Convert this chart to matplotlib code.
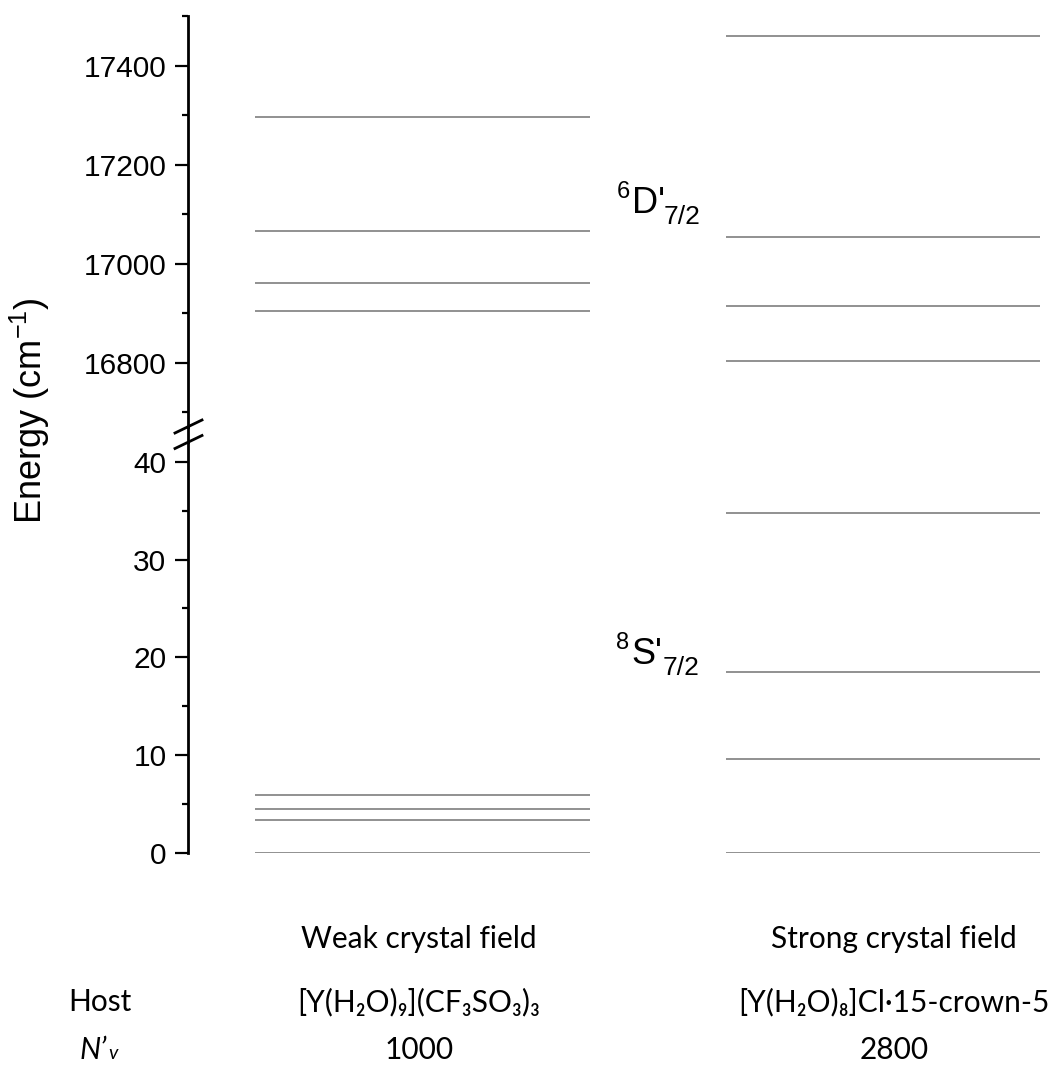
import matplotlib
matplotlib.use("Agg")
import matplotlib.pyplot as plt
from matplotlib.lines import Line2D
from matplotlib.ticker import MultipleLocator

plt.rcParams["mathtext.fontset"] = "custom"
plt.rcParams["mathtext.rm"] = "Liberation Sans"
plt.rcParams["mathtext.it"] = "Liberation Sans:italic"

# Crystal-field levels (cm^-1) of the two hosts
weak_excited = [16904, 16962, 17066, 17296]     # 6D'7/2, weak field
weak_ground = [0.0, 3.4, 4.5, 6.0]              # 8S'7/2, weak field
strong_excited = [16804, 16915, 17054, 17461]   # 6D'7/2, strong field
strong_ground = [0.0, 9.6, 18.5, 34.8]          # 8S'7/2, strong field

field_labels = ["Weak crystal field", "Strong crystal field"]
host_labels = ["[Y(H\u2082O)\u2089](CF\u2083SO\u2083)\u2083",
               "[Y(H\u2082O)\u2088]Cl\u00b715-crown-5"]
nv_values = ["1000", "2800"]

W, H = 1054, 1065
fig = plt.figure(figsize=(W / 100, H / 100), dpi=100)
fig.patch.set_facecolor("white")


def fx(px):
    return px / W


def fy(py):
    return 1 - py / H


AXIS_X = 188
HI_TOP, HI_BOT = 16.3, 427.0
LO_TOP, LO_BOT = 442.0, 853.3

ax_hi = fig.add_axes([fx(AXIS_X), fy(HI_BOT), fx(W) - fx(AXIS_X), fy(HI_TOP) - fy(HI_BOT)])
ax_lo = fig.add_axes([fx(AXIS_X), fy(LO_BOT), fx(W) - fx(AXIS_X), fy(LO_TOP) - fy(LO_BOT)])

ax_hi.set_ylim(16670, 17500)
ax_lo.set_ylim(0, 42)

ARIAL = ["Liberation Sans", "DejaVu Sans"]
for ax, major, minor in ((ax_hi, 200, 100), (ax_lo, 10, 5)):
    ax.set_xlim(AXIS_X, W)
    ax.patch.set_alpha(0)
    for side in ("top", "right", "bottom"):
        ax.spines[side].set_visible(False)
    ax.spines["left"].set_linewidth(2.0)
    ax.set_xticks([])
    ax.yaxis.set_major_locator(MultipleLocator(major))
    ax.yaxis.set_minor_locator(MultipleLocator(minor))
    ax.tick_params(axis="y", which="major", length=9.5, width=1.6, pad=6)
    ax.tick_params(axis="y", which="minor", length=4.5, width=1.6)
    for lbl in ax.get_yticklabels():
        lbl.set_fontfamily(ARIAL)
        lbl.set_fontsize(21.5)

# Level lines
LEVEL_KW = dict(color="#737373", linewidth=1.1)
WEAK_X = (255, 590)
STRONG_X = (726, 1040)
ax_hi.hlines(weak_excited, *WEAK_X, **LEVEL_KW)
ax_lo.hlines(weak_ground, *WEAK_X, **LEVEL_KW)
ax_hi.hlines(strong_excited, *STRONG_X, **LEVEL_KW)
ax_lo.hlines(strong_ground, *STRONG_X, **LEVEL_KW)

# Axis break: join the two spines and draw the slanted marks
fig.add_artist(Line2D([fx(AXIS_X)] * 2, [fy(HI_BOT), fy(LO_TOP)], color="black", lw=2.0))
for yc in (426.5, 442.0):
    fig.add_artist(Line2D([fx(175), fx(202)], [fy(yc + 6.5), fy(yc - 6.5)],
                          color="black", lw=2.0))

# Axis title
fig.text(fx(30), fy(411), "Energy (cm$^{\\mathregular{-1}}$)", rotation=90,
         ha="center", va="center", fontsize=26, family=ARIAL)


# Term symbols
def term(x, y, sup, main, sub):
    fig.text(fx(x), fy(y - 15), sup, fontsize=17, family=ARIAL, va="baseline")
    fig.text(fx(x + 15), fy(y), main, fontsize=26, family=ARIAL, va="baseline")
    fig.text(fx(x + 47), fy(y + 11), sub, fontsize=19, family=ARIAL, va="baseline")


term(617, 213, "6", "D'", "7/2")
term(616, 664, "8", "S'", "7/2")

# Bottom table
CAL = ["Lato", "DejaVu Sans"]
TFS = 21.5
centers = [419, 894]
for cx, s in zip(centers, field_labels):
    fig.text(fx(cx), fy(948), s, fontsize=TFS, family=CAL, ha="center", va="baseline")
fig.text(fx(100), fy(1011), "Host", fontsize=TFS, family=CAL, ha="center", va="baseline")
for cx, s in zip(centers, host_labels):
    fig.text(fx(cx), fy(1011), s, fontsize=TFS, family=CAL, ha="center", va="baseline")
fig.text(fx(80), fy(1059), "N\u2019", fontsize=TFS, family=CAL, style="italic", va="baseline")
fig.text(fx(108), fy(1059), "v", fontsize=14, family=CAL, style="italic", va="baseline")
for cx, s in zip(centers, nv_values):
    fig.text(fx(cx), fy(1059), s, fontsize=TFS, family=CAL, ha="center", va="baseline")

fig.savefig("out.png", dpi=100, facecolor="white")
